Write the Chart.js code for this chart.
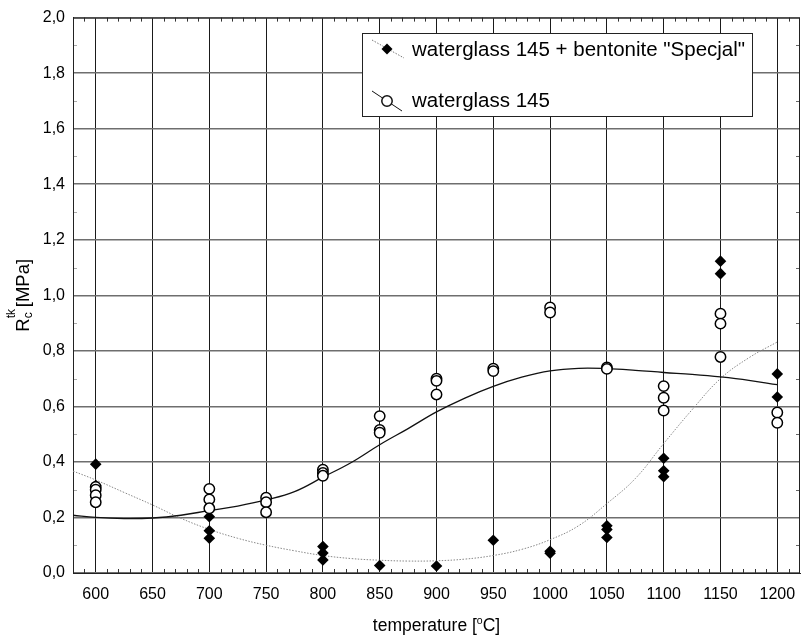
<!DOCTYPE html>
<html>
<head>
<meta charset="utf-8">
<script src="https://cdn.jsdelivr.net/npm/chart.js@4.4.1/dist/chart.umd.min.js"></script>
<style>
    html, body { margin: 0; padding: 0; background: #fff; overflow: hidden; }
    #wrap { width: 802px; height: 636px; position: relative; }
</style>
</head>
<body>
<div id="wrap"><canvas id="grafico"></canvas></div>
<script>
// temperatures where samples were tested
const tempLevels = [600, 700, 750, 800, 850, 900, 950, 1000, 1050, 1100, 1150, 1200];

// waterglass 145 + bentonite "Specjal" (diamonds)
const bentoniteValues = [
    [0.392, 0.315],
    [0.203, 0.152, 0.125],
    [],
    [0.095, 0.072, 0.047],
    [0.027],
    [0.025],
    [0.118],
    [0.071, 0.078],
    [0.170, 0.157, 0.128],
    [0.413, 0.368, 0.347],
    [1.123, 1.078],
    [0.717, 0.634]
];

// waterglass 145 (open circles)
const waterglassValues = [
    [0.31, 0.30, 0.28, 0.255],
    [0.303, 0.265, 0.233],
    [0.271, 0.255, 0.219],
    [0.372, 0.36, 0.35],
    [0.565, 0.515, 0.505],
    [0.70, 0.692, 0.643],
    [0.736, 0.727],
    [0.956, 0.938],
    [0.74, 0.735],
    [0.673, 0.631, 0.585],
    [0.934, 0.898, 0.778],
    [0.578, 0.541]
];

// fitted curves
const curveTemps = [580, 600, 625, 650, 675, 700, 725, 750, 775, 800, 825, 850, 875, 900,
    925, 950, 975, 1000, 1025, 1050, 1075, 1100, 1125, 1150, 1175, 1200];
const waterglassFit = [0.208, 0.200, 0.196, 0.198, 0.208, 0.225, 0.241, 0.263, 0.293, 0.345, 0.398, 0.462, 0.52, 0.58,
    0.63, 0.672, 0.705, 0.728, 0.737, 0.736, 0.73, 0.722, 0.715, 0.706, 0.694, 0.678];
const bentoniteFit = [0.367, 0.335, 0.29, 0.245, 0.197, 0.157, 0.125, 0.10, 0.08, 0.063, 0.052, 0.046, 0.043, 0.044,
    0.05, 0.063, 0.085, 0.12, 0.17, 0.25, 0.34, 0.466, 0.588, 0.70, 0.775, 0.832];

const xTicks = [600, 650, 700, 750, 800, 850, 900, 950, 1000, 1050, 1100, 1150, 1200];
const yTicks = [0, 0.2, 0.4, 0.6, 0.8, 1.0, 1.2, 1.4, 1.6, 1.8, 2.0];

const legendLabels = ['waterglass 145 + bentonite "Specjal"', 'waterglass 145'];

const fonte = '"Liberation Sans", Arial, sans-serif';

function pontos(valores) {
    const lista = [];
    tempLevels.forEach((t, i) => {
        valores[i].forEach(v => lista.push({ x: t, y: v }));
    });
    return lista;
}

function curva(valores) {
    return curveTemps.map((t, i) => ({ x: t, y: valores[i] }));
}

// draws a string made of pieces with their own size and vertical shift
function textoComposto(ctx, partes, x, y) {
    let total = 0;
    partes.forEach(p => {
        ctx.font = p.size + 'px ' + fonte;
        p.w = ctx.measureText(p.text).width;
        if (!p.stack) total += p.w;
    });
    let cx = x - total / 2;
    let ultimo = 0;
    partes.forEach(p => {
        ctx.font = p.size + 'px ' + fonte;
        if (p.stack) {
            ctx.fillText(p.text, cx - ultimo, y + p.dy);
        } else {
            ctx.fillText(p.text, cx, y + p.dy);
            cx += p.w;
            ultimo = p.w;
        }
    });
}

const extras = {
    id: 'extras',
    beforeDatasetsDraw(chart) {
        const ctx = chart.ctx;
        const area = chart.chartArea;
        const sx = chart.scales.x;
        const sy = chart.scales.y;
        ctx.save();
        ctx.lineWidth = 1;
        // minor ticks
        ctx.strokeStyle = '#333';
        for (let t = 590; t <= 1210; t += 10) {
            if (t % 50 === 0) continue;
            const px = Math.round(sx.getPixelForValue(t)) + 0.5;
            ctx.beginPath();
            ctx.moveTo(px, area.bottom);
            ctx.lineTo(px, area.bottom - 4);
            ctx.moveTo(px, area.top);
            ctx.lineTo(px, area.top + 4);
            ctx.stroke();
        }
        for (let k = 1; k < 20; k += 2) {
            const py = Math.round(sy.getPixelForValue(k / 10)) + 0.5;
            ctx.strokeStyle = '#aaa';
            ctx.beginPath();
            ctx.moveTo(area.left, py);
            ctx.lineTo(area.left + 4, py);
            ctx.stroke();
            ctx.strokeStyle = '#666';
            ctx.beginPath();
            ctx.moveTo(area.right, py);
            ctx.lineTo(area.right - 4, py);
            ctx.stroke();
        }
        // frame
        ctx.strokeStyle = '#222';
        ctx.strokeRect(area.left + 0.5, area.top + 0.5, area.right - area.left - 1, area.bottom - area.top);

        // x tick labels
        ctx.fillStyle = '#000';
        ctx.font = '16px ' + fonte;
        ctx.textAlign = 'center';
        ctx.textBaseline = 'alphabetic';
        xTicks.forEach(t => {
            ctx.fillText(String(t), sx.getPixelForValue(t), 599);
        });
        ctx.restore();
    },
    afterDraw(chart) {
        const ctx = chart.ctx;
        const area = chart.chartArea;
        ctx.save();
        ctx.fillStyle = '#000';
        ctx.textBaseline = 'alphabetic';

        // x axis title
        textoComposto(ctx, [
            { text: 'temperature [', size: 17.5, dy: 0 },
            { text: 'o', size: 10.5, dy: -7 },
            { text: 'C]', size: 17.5, dy: 0 }
        ], (area.left + area.right) / 2, 631);

        // y axis title
        ctx.save();
        ctx.translate(29, (area.top + area.bottom) / 2);
        ctx.rotate(-Math.PI / 2);
        textoComposto(ctx, [
            { text: 'R', size: 18.5, dy: 0 },
            { text: 'c', size: 12, dy: 3 },
            { text: 'tk', size: 12, dy: -14, stack: true },
            { text: ' [MPa]', size: 18.5, dy: 0 }
        ], 0, 0);
        ctx.restore();

        // legend box
        ctx.fillStyle = '#fff';
        ctx.fillRect(362, 33, 390, 83);
        ctx.strokeStyle = '#222';
        ctx.lineWidth = 1;
        ctx.strokeRect(362.5, 33.5, 390, 83);

        // dotted entry
        ctx.strokeStyle = '#777';
        ctx.setLineDash([1.5, 1.5]);
        ctx.beginPath();
        ctx.moveTo(372, 40);
        ctx.lineTo(404, 58);
        ctx.stroke();
        ctx.setLineDash([]);
        ctx.fillStyle = '#000';
        ctx.beginPath();
        ctx.moveTo(387, 43.5);
        ctx.lineTo(392.5, 49);
        ctx.lineTo(387, 54.5);
        ctx.lineTo(381.5, 49);
        ctx.closePath();
        ctx.fill();

        // solid entry
        ctx.strokeStyle = '#111';
        ctx.beginPath();
        ctx.moveTo(372, 91);
        ctx.lineTo(402, 111);
        ctx.stroke();
        ctx.fillStyle = '#fff';
        ctx.lineWidth = 1.5;
        ctx.beginPath();
        ctx.arc(387, 101, 5.2, 0, Math.PI * 2);
        ctx.fill();
        ctx.stroke();

        ctx.fillStyle = '#000';
        ctx.font = '20.5px ' + fonte;
        ctx.textAlign = 'left';
        ctx.fillText(legendLabels[0], 412, 56);
        ctx.fillText(legendLabels[1], 412, 107);
        ctx.restore();
    }
};

const ctx = document.getElementById('grafico').getContext('2d');
const grafico = new Chart(ctx, {
    type: 'scatter',
    data: {
        datasets: [
            {
                label: legendLabels[0],
                data: pontos(bentoniteValues),
                pointStyle: 'rectRot',
                pointRadius: 5.8,
                backgroundColor: '#000',
                borderColor: '#000',
                borderWidth: 0,
                order: 1
            },
            {
                label: legendLabels[1],
                data: pontos(waterglassValues),
                pointStyle: 'circle',
                pointRadius: 5.2,
                backgroundColor: '#fff',
                borderColor: '#000',
                borderWidth: 1.5,
                order: 0
            },
            {
                label: 'fit waterglass',
                data: curva(waterglassFit),
                showLine: true,
                pointRadius: 0,
                borderColor: '#111',
                borderWidth: 1.3,
                tension: 0.4,
                order: 3
            },
            {
                label: 'fit bentonite',
                data: curva(bentoniteFit),
                showLine: true,
                pointRadius: 0,
                borderColor: '#888',
                borderWidth: 1,
                borderDash: [1.5, 1.5],
                tension: 0.4,
                order: 4
            }
        ]
    },
    options: {
        responsive: true,
        maintainAspectRatio: false,
        animation: false,
        layout: { autoPadding: false, padding: { top: 17, right: 2, left: 0, bottom: 0 } },
        plugins: {
            legend: { display: false },
            tooltip: { enabled: false }
        },
        scales: {
            x: {
                type: 'linear',
                min: 580,
                max: 1220,
                afterBuildTicks: s => { s.ticks = xTicks.map(v => ({ value: v })); },
                afterFit: s => { s.height = 63; },
                ticks: { display: false },
                grid: { color: '#1a1a1a', lineWidth: 1, drawTicks: false },
                border: { color: '#222', width: 1 }
            },
            y: {
                min: 0,
                max: 2,
                afterBuildTicks: s => { s.ticks = yTicks.map(v => ({ value: v })); },
                afterFit: s => { s.width = 73; },
                ticks: {
                    color: '#000',
                    font: { family: fonte, size: 16 },
                    padding: 8,
                    autoSkip: false,
                    callback: v => v.toFixed(1).replace('.', ',')
                },
                grid: { color: '#6e6e6e', lineWidth: 1.6, drawTicks: false },
                border: { color: '#222', width: 1 }
            }
        }
    },
    plugins: [extras]
});
</script>
</body>
</html>
